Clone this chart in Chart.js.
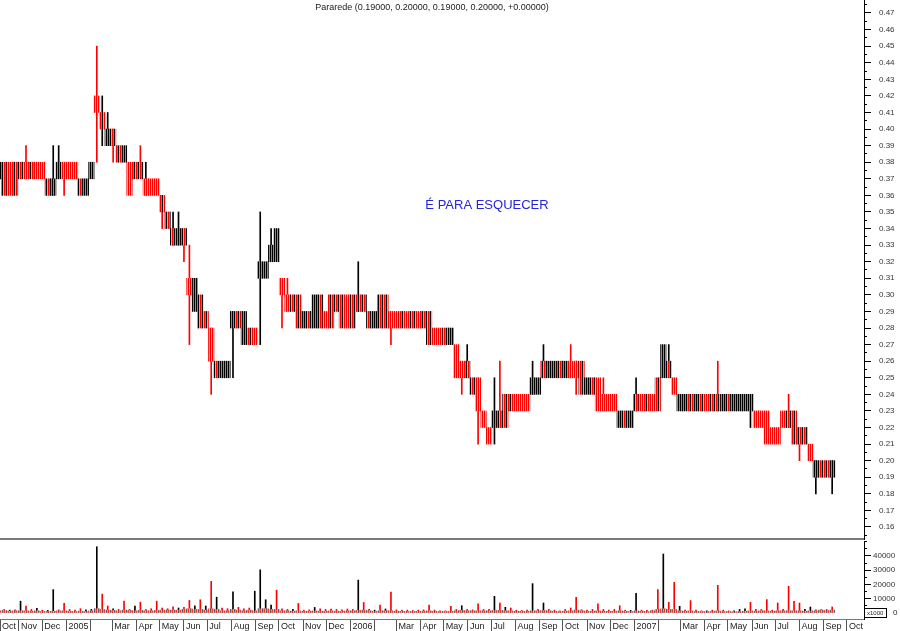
<!DOCTYPE html>
<html>
<head>
<meta charset="utf-8">
<script src="https://cdn.jsdelivr.net/npm/chart.js@4.4.1/dist/chart.umd.min.js"></script>
<style>
  html, body { margin: 0; padding: 0; background: #fff; }
  #wrap { position: relative; width: 900px; height: 631px; overflow: hidden; }
  #priceChart { position: absolute; left: 0; top: 0; }
  #volChart { position: absolute; left: 0; top: 541px; }
</style>
</head>
<body>
<div id="wrap">
  <canvas id="priceChart" width="900" height="541"></canvas>
  <canvas id="volChart" width="900" height="90"></canvas>
</div>
<script>
// weekly bars, week 0 = week of 4 Oct 2004; prices in cents
const weekLow = [
  37, 36, 36, 36, 37, 37, 37, 37, 37, 36,
  36, 37, 37, 37, 37, 36, 36, 37, 41, 40,
  39, 39, 38, 38, 36, 37, 37, 36, 36, 36,
  35, 34, 33, 33, 33, 30, 29, 28, 28, 26,
  25, 25, 25, 28, 28, 27, 27, 27, 31, 31,
  32, 32, 30, 29, 29, 28, 28, 28, 28, 28,
  28, 28, 29, 28, 28, 28, 29, 29, 28, 28,
  28, 28, 28, 28, 28, 28, 28, 28, 28, 27,
  27, 27, 27, 27, 25, 25, 25, 24, 23, 22,
  21, 22, 22, 22, 23, 23, 23, 23, 24, 24,
  25, 25, 25, 25, 25, 25, 25, 24, 24, 24,
  23, 23, 23, 23, 22, 22, 22, 23, 23, 23,
  23, 23, 25, 25, 24, 23, 23, 23, 23, 23,
  23, 23, 23, 23, 23, 23, 23, 23, 23, 22,
  22, 21, 21, 21, 22, 22, 21, 21, 21, 20,
  19, 19, 19, 19
];
const weekHigh = [
  38, 38, 38, 38, 38, 38, 38, 38, 38, 37,
  37, 38, 38, 38, 38, 37, 37, 38, 42, 41,
  40, 40, 39, 39, 38, 38, 38, 37, 37, 37,
  36, 35, 34, 34, 34, 31, 31, 30, 29, 28,
  26, 26, 26, 29, 29, 29, 28, 28, 32, 32,
  33, 34, 31, 30, 30, 30, 29, 29, 30, 30,
  29, 30, 30, 30, 30, 30, 30, 30, 29, 29,
  30, 30, 29, 29, 29, 29, 29, 29, 29, 29,
  28, 28, 28, 28, 27, 26, 26, 25, 25, 23,
  22, 23, 23, 24, 24, 24, 24, 24, 25, 25,
  26, 26, 26, 26, 26, 26, 26, 26, 25, 25,
  25, 24, 24, 24, 23, 23, 23, 24, 24, 24,
  24, 25, 27, 26, 25, 24, 24, 24, 24, 24,
  24, 24, 24, 24, 24, 24, 24, 24, 24, 23,
  23, 23, 22, 22, 23, 23, 23, 22, 22, 21,
  20, 20, 20, 20
];
// r = mostly down days, k = mostly up days, m = mixed
const weekTone = (
  'kmrmmrmrrm' + 'kkrrrmkkrm' + 'kmmkrmmrrr' + 'mmmkmrkmmr' + 'mkkkmkmrkk' +
  'kkrrmmkmkm' + 'rmmmrmmmmk' + 'mmrrmrmrmm' + 'rrmkrrmmrr' + 'rkmmmrrrkk' +
  'mkkmkrrmkm' + 'rrrrkmkmrm' + 'rmkmrkkmkm' + 'rmmkmkkkkr' + 'rrrrrmmmmr' +
  'kmmk'
).split('');
// [week, cents, day tone]
const spikeHigh = [
  [0, 39, 'k'], [5, 39, 'r'], [10, 39, 'k'], [11, 39, 'k'], [18, 45, 'r'], [19, 42, 'k'],
  [20, 41, 'k'], [26, 39, 'r'], [27, 38, 'k'], [32, 35, 'k'], [33, 35, 'k'], [35, 33, 'r'],
  [48, 35, 'k'], [50, 34, 'k'], [53, 31, 'r'], [66, 32, 'k'], [86, 27, 'k'], [91, 25, 'k'],
  [92, 26, 'r'], [98, 26, 'k'], [100, 27, 'k'], [105, 27, 'r'], [111, 25, 'r'], [117, 25, 'k'],
  [123, 27, 'k'], [132, 26, 'r'], [145, 24, 'r']
];
const spikeLow = [
  [12, 36, 'r'], [18, 38, 'k'], [19, 39, 'k'], [21, 38, 'r'], [30, 34, 'r'], [34, 32, 'r'],
  [35, 27, 'r'], [39, 24, 'r'], [43, 25, 'k'], [48, 27, 'k'], [52, 28, 'r'], [72, 27, 'r'],
  [85, 24, 'r'], [88, 21, 'r'], [91, 21, 'r'], [106, 24, 'r'], [138, 22, 'k'], [147, 20, 'r'],
  [150, 18, 'k'], [153, 18, 'k']
];
// volume, x1000 shares: largest day of the week and the usual level
const volPeak = [
  2500, 2500, 2000, 2200, 8300, 4900, 2500, 3200, 2000, 1800,
  16400, 2200, 6700, 2500, 2000, 3000, 2200, 2500, 46500, 13200,
  4900, 3000, 2500, 8300, 2500, 4900, 7600, 2500, 3000, 8300,
  3500, 3000, 4400, 3500, 4000, 8800, 5000, 9300, 4900, 22200,
  11100, 3500, 3000, 14800, 4000, 3000, 3500, 15300, 30300, 9300,
  5600, 16000, 3000, 2500, 2500, 6700, 2000, 2200, 3900, 3000,
  2500, 2800, 2500, 2200, 2800, 2500, 23100, 7400, 2500, 2000,
  5600, 2800, 14600, 2200, 2000, 2000, 1800, 2000, 2200, 5600,
  2000, 1500, 1500, 4700, 2500, 5100, 2500, 2200, 6500, 2500,
  2500, 11700, 7000, 4000, 3500, 2000, 1800, 2000, 20600, 2500,
  7000, 2500, 2000, 1500, 2500, 3500, 11000, 2300, 2000, 2500,
  6500, 2500, 2000, 2500, 5100, 2000, 1800, 13800, 2000, 1800,
  2000, 16400, 41400, 7500, 21500, 4700, 2000, 8700, 2000, 1500,
  1500, 2000, 19400, 2000, 1500, 1500, 2500, 3000, 7500, 2500,
  2500, 9400, 2000, 7000, 2500, 18700, 8200, 7000, 2500, 4200,
  2300, 2500, 2500, 4200
];
const volTone = (
  'rrkrkrrkrk' + 'krrrrrkkkr' + 'rkrrrkrrrr' + 'rrrkrrkrkr' + 'krrkrrrkkk' +
  'krrrkrrrkr' + 'rrrrrrkrrk' + 'rkrrrrrrrr' + 'rrrrrkrrrr' + 'rkrkrrrrkr' +
  'krrrrrrrrr' + 'rrrrrrkkrr' + 'rrkrrkrrrr' + 'krrrrkkkrr' + 'rrrrrrrrkk' +
  'rrrr'
).split('');
const volFloor = [
  1500, 1800, 1200, 1500, 1500, 1500, 1200, 1500, 1000, 1000,
  1200, 1500, 1500, 1200, 1000, 1200, 1000, 1500, 3000, 2500,
  2000, 1800, 1500, 2000, 1800, 1500, 1800, 1500, 1500, 1800,
  2000, 2000, 2000, 2000, 2500, 3000, 2500, 2500, 2000, 3000,
  2500, 1500, 1500, 2500, 2000, 1500, 2000, 1500, 3000, 3000,
  2500, 2500, 1500, 1500, 1200, 1500, 1200, 1200, 1500, 1200,
  1200, 1500, 1200, 1200, 1500, 1500, 1800, 2000, 1500, 1200,
  1500, 1500, 1500, 1200, 1200, 1000, 1000, 1200, 1200, 1500,
  1200, 1000, 1000, 1200, 1500, 1800, 1500, 1500, 1500, 1500,
  1500, 1800, 1800, 1500, 1500, 1200, 1200, 1200, 1500, 1500,
  1800, 1500, 1200, 1000, 1200, 1500, 2000, 1500, 1200, 1200,
  1500, 1200, 1200, 1200, 1500, 1200, 1000, 1500, 1200, 1000,
  1500, 2500, 3000, 2500, 2500, 1500, 1200, 1500, 1000, 1000,
  1000, 1000, 1500, 1000, 1000, 800, 1000, 1200, 1500, 1200,
  1500, 1500, 1200, 1500, 1500, 1500, 1500, 1500, 1200, 1500,
  1500, 2000, 1800, 2000
];
const priceTicks = [0.16, 0.47];
const volTicks = [0, 10000, 20000, 30000, 40000];
const monthNames = ['', '', 'Mar', 'Apr', 'May', 'Jun', 'Jul', 'Aug', 'Sep', 'Oct', 'Nov', 'Dec'];
const title = 'Pararede (0.19000, 0.20000, 0.19000, 0.20000, +0.00000)';
const note = 'É PARA ESQUECER';

// x axis: days since 4 Oct 2004
const weekStart = Date.UTC(2004, 9, 4);
const dayMs = 86400000;
const weekDay = i => 7 * i + 2;
const xMin = 3.6, xMax = 1113.9;
const FONT = "'Liberation Sans', Arial, sans-serif";

const monthTicks = [{ value: xMin, label: 'Oct' }];
for (let k = 0; k < 36; k++) {
  const y = 2004 + Math.floor((10 + k) / 12);
  const m = (10 + k) % 12;
  monthTicks.push({ value: (Date.UTC(y, m, 1) - weekStart) / dayMs, label: m === 0 ? String(y) : monthNames[m] });
}

const priceCtx = document.getElementById('priceChart').getContext('2d');
const volCtx = document.getElementById('volChart').getContext('2d');

function stripes(colors) {
  const c = document.createElement('canvas');
  c.width = colors.length;
  c.height = 1;
  const g = c.getContext('2d');
  colors.forEach((col, i) => { g.fillStyle = col; g.fillRect(i, 0, 1, 1); });
  return priceCtx.createPattern(c, 'repeat');
}
const tonePattern = {
  r: stripes(['#ff0000', '#ff9a9a']),
  k: stripes(['#000000', '#8c8c8c']),
  m: stripes(['#ff0000', '#808080', '#000000', '#ff9a9a'])
};
const floorPattern = stripes(['#ff3030', '#ffb0b0', '#606060', '#ff8080']);
const toneColor = { r: '#ff0000', k: '#000000', m: '#000000' };

const bodies = weekLow.map((lo, i) => ({ x: weekDay(i), y: [lo / 100, weekHigh[i] / 100] }));

const wickMap = {};
spikeHigh.forEach(([w, c, t]) => { wickMap[w] = { lo: weekLow[w], hi: c, tone: t }; });
spikeLow.forEach(([w, c, t]) => {
  if (wickMap[w]) wickMap[w].lo = c;
  else wickMap[w] = { lo: c, hi: weekHigh[w], tone: t };
});
const wickWeeks = Object.keys(wickMap).map(Number).sort((a, b) => a - b);
const wicks = wickWeeks.map(w => ({ x: weekDay(w), y: [wickMap[w].lo / 100, wickMap[w].hi / 100] }));

const yMin = 0.15276, yMax = 0.47784;

function rangeTicks(from, to, step) {
  const out = [];
  for (let v = from; v <= to + step / 10; v += step) out.push({ value: Math.round(v * 1e6) / 1e6 });
  return out;
}

// keep label overhang from shrinking the plot
function noPad(s) {
  s.paddingTop = 0;
  s.paddingBottom = 0;
  s.paddingLeft = 0;
  s.paddingRight = 0;
}

const textPlugin = {
  id: 'texts',
  afterDraw(chart) {
    const { ctx, chartArea } = chart;
    ctx.save();
    ctx.textAlign = 'center';
    ctx.textBaseline = 'middle';
    ctx.fillStyle = '#222';
    ctx.font = '9px ' + FONT;
    ctx.fillText(title, (chartArea.left + chartArea.right) / 2, 8);
    ctx.fillStyle = '#2424e0';
    ctx.font = '13px ' + FONT;
    ctx.fillText(note, 487, 205);
    ctx.restore();
  }
};

new Chart(priceCtx, {
  type: 'bar',
  data: {
    datasets: [
      {
        data: bodies,
        backgroundColor: c => tonePattern[weekTone[c.dataIndex]],
        borderWidth: 0,
        barPercentage: 1,
        categoryPercentage: 1,
        grouped: false
      },
      {
        data: wicks,
        backgroundColor: c => toneColor[wickMap[wickWeeks[c.dataIndex]].tone],
        borderWidth: 0,
        barThickness: 1,
        grouped: false
      }
    ]
  },
  options: {
    responsive: false,
    animation: false,
    events: [],
    layout: { padding: 0, autoPadding: false },
    plugins: { legend: { display: false }, tooltip: { enabled: false }, title: { display: false } },
    scales: {
      x: {
        type: 'linear',
        min: xMin,
        max: xMax,
        offset: false,
        ticks: { display: false },
        grid: { offset: false, drawOnChartArea: false, drawTicks: false },
        border: { display: true, color: '#7a7a7a', width: 2 },
        afterFit: s => { s.height = 2; noPad(s); }
      },
      yMinor: {
        position: 'right',
        weight: 0,
        min: yMin,
        max: yMax,
        afterBuildTicks: s => { s.ticks = rangeTicks(0.155, 0.475, 0.005); },
        ticks: { display: false },
        grid: { drawOnChartArea: false, tickLength: 3, color: '#000' },
        border: { display: false },
        afterFit: s => { s.width = 0; noPad(s); }
      },
      y: {
        position: 'right',
        weight: 1,
        min: yMin,
        max: yMax,
        afterBuildTicks: s => { s.ticks = rangeTicks(priceTicks[0], priceTicks[1], 0.01); },
        ticks: {
          padding: 8,
          color: '#333',
          font: { family: FONT, size: 8 },
          callback: v => v.toFixed(2)
        },
        grid: { drawOnChartArea: false, tickLength: 7, color: '#000' },
        border: { display: true, color: '#000', width: 1 },
        afterFit: s => { s.width = 36; noPad(s); }
      }
    }
  },
  plugins: [textPlugin]
});

const unitPlugin = {
  id: 'units',
  afterDraw(chart) {
    const { ctx, chartArea } = chart;
    const y0 = chart.scales.y.getPixelForValue(0);
    ctx.save();
    ctx.strokeStyle = '#000';
    ctx.lineWidth = 1;
    ctx.fillStyle = '#fff';
    ctx.fillRect(chartArea.right + 1, y0 - 4.5, 22, 9);
    ctx.strokeRect(chartArea.right + 0.5, y0 - 4.5, 22, 9);
    ctx.fillStyle = '#222';
    ctx.textBaseline = 'middle';
    ctx.textAlign = 'left';
    ctx.font = '6px ' + FONT;
    ctx.fillText('x1000', chartArea.right + 3, y0);
    ctx.font = '8px ' + FONT;
    ctx.fillText('0', chartArea.right + 29, y0);
    ctx.restore();
  }
};

new Chart(volCtx, {
  type: 'bar',
  data: {
    datasets: [
      {
        data: volFloor.map((v, i) => ({ x: weekDay(i), y: v })),
        backgroundColor: floorPattern,
        borderWidth: 0,
        barPercentage: 1,
        categoryPercentage: 1,
        grouped: false
      },
      {
        data: volPeak.map((v, i) => ({ x: weekDay(i), y: v })),
        backgroundColor: c => toneColor[volTone[c.dataIndex]],
        borderWidth: 0,
        barThickness: 1,
        grouped: false
      }
    ]
  },
  options: {
    responsive: false,
    animation: false,
    events: [],
    layout: { padding: 0, autoPadding: false },
    plugins: { legend: { display: false }, tooltip: { enabled: false } },
    scales: {
      x: {
        type: 'linear',
        min: xMin,
        max: xMax,
        offset: false,
        afterBuildTicks: s => { s.ticks = monthTicks.map(t => ({ value: t.value })); },
        ticks: {
          autoSkip: false,
          maxRotation: 0,
          align: 'start',
          labelOffset: 2,
          padding: -10,
          color: '#222',
          font: { family: FONT, size: 9 },
          callback: (v, i) => monthTicks[i].label
        },
        grid: { offset: false, drawOnChartArea: false, tickLength: 12, color: '#555' },
        border: { display: true, color: '#777', width: 1 },
        afterFit: s => { s.height = 12; noPad(s); }
      },
      yMinor: {
        position: 'right',
        weight: 0,
        min: -4211,
        max: 50526,
        afterBuildTicks: s => { s.ticks = rangeTicks(0, 50000, 5000); },
        ticks: { display: false },
        grid: { drawOnChartArea: false, tickLength: 3, color: '#000' },
        border: { display: false },
        afterFit: s => { s.width = 0; noPad(s); }
      },
      y: {
        position: 'right',
        weight: 1,
        min: -4211,
        max: 50526,
        afterBuildTicks: s => { s.ticks = volTicks.map(v => ({ value: v })); },
        ticks: {
          padding: 2,
          color: '#333',
          font: { family: FONT, size: 8 },
          callback: v => (v === 0 ? '' : String(v))
        },
        grid: { drawOnChartArea: false, tickLength: 7, color: '#000' },
        border: { display: true, color: '#000', width: 1 },
        afterFit: s => { s.width = 36; noPad(s); }
      }
    }
  },
  plugins: [unitPlugin]
});
</script>
</body>
</html>
